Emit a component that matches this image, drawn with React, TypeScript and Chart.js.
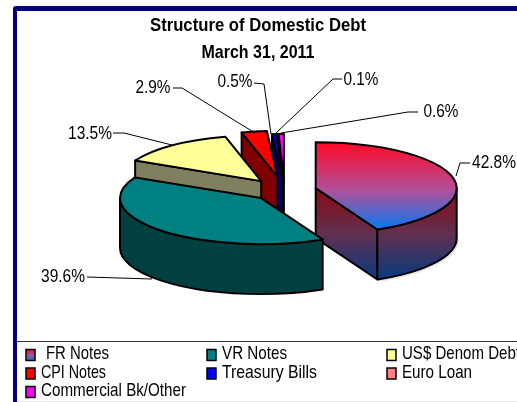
import React, { useEffect, useRef } from "react";
import { Chart, registerables } from "chart.js";

Chart.register(...registerables);

const categories = ["FR Notes", "VR Notes", "US$ Denom Debt", "CPI Notes", "Treasury Bills", "Euro Loan", "Commercial Bk/Other"];
const shares = [42.8, 39.6, 13.5, 2.9, 0.5, 0.1, 0.6];
const titleLines = ["Structure of Domestic Debt", "March 31, 2011"];

const topColors = ["#ff0000", "#008080", "#ffff99", "#ff0000", "#0000ff", "#ff8080", "#ff00ff"];
const sideColors = ["#800000", "#004040", "#808060", "#800000", "#000080", "#804040", "#800080"];
const explode = [32, 33, 37, 42, 32, 32, 32];
const drawOrder = [6, 5, 4, 3, 2, 0, 1];
const SQUASH = 46 / 141;
const DEPTH = 50;
const labelBoxes = [
  { x: 494, y: 163, w: 44, path: [[470, 163], [460, 163], [456, 176]] },
  { x: 63, y: 277, w: 44, path: [[87, 277], [152, 279]] },
  { x: 90, y: 134, w: 44, path: [[113, 133], [124, 133], [172, 145]] },
  { x: 153, y: 88, w: 35, path: [[173, 88], [182, 88], [255, 133]] },
  { x: 235, y: 82, w: 35, path: [[254, 83], [264, 84], [271, 134]] },
  { x: 361, y: 80, w: 35, path: [[342, 79], [333, 79], [276, 133]] },
  { x: 441, y: 112, w: 35, path: [[418, 112], [408, 112], [281, 133]] },
];
const legendSpots = [[26, 354.5], [207, 354.5], [387, 354.5], [26, 373], [207, 373], [387, 373], [26, 391.5]];
const legendWidths = [63, 65, 118, 65, 95, 70, 145];

function text(ctx: CanvasRenderingContext2D, s: string, x: number, y: number, font: string, w: number, align: "left" | "center" = "left") {
  ctx.save();
  ctx.font = font;
  ctx.fillStyle = "#000";
  ctx.textBaseline = "middle";
  ctx.textAlign = "left";
  const k = w / ctx.measureText(s).width;
  ctx.translate(align === "center" ? x - w / 2 : x, y);
  ctx.scale(k, 1);
  ctx.fillText(s, 0, 0);
  ctx.restore();
}

const pie3d = {
  id: "pie3d",
  beforeDatasetDraw(chart: any) {
    const ctx: CanvasRenderingContext2D = chart.ctx;
    const arcs = chart.getDatasetMeta(0).data;
    const frTop = ctx.createLinearGradient(0, 143, 0, 229);
    frTop.addColorStop(0, "#ff0a28");
    frTop.addColorStop(0.55, "#b0509a");
    frTop.addColorStop(1, "#0a78f0");
    const frSide = ctx.createLinearGradient(0, 190, 0, 279);
    frSide.addColorStop(0, "#8a0c18");
    frSide.addColorStop(0.5, "#603050");
    frSide.addColorStop(1, "#083a80");
    ctx.save();
    ctx.lineWidth = 2;
    ctx.strokeStyle = "#000";
    ctx.lineJoin = "round";
    for (const i of drawOrder) {
      const a = arcs[i];
      const mid = (a.startAngle + a.endAngle) / 2;
      const r = a.outerRadius;
      const cx = a.x + Math.cos(mid) * explode[i];
      const cy = a.y + Math.sin(mid) * explode[i] * SQUASH;
      const b = r * SQUASH;
      const side = i === 0 ? frSide : sideColors[i];
      const faces: number[] = [];
      if (Math.cos(a.startAngle) < -1e-6) faces.push(a.startAngle);
      if (Math.cos(a.endAngle) > 1e-6) faces.push(a.endAngle);
      for (const t of faces) {
        ctx.beginPath();
        ctx.moveTo(cx, cy);
        ctx.lineTo(cx + Math.cos(t) * r, cy + Math.sin(t) * b);
        ctx.lineTo(cx + Math.cos(t) * r, cy + Math.sin(t) * b + DEPTH);
        ctx.lineTo(cx, cy + DEPTH);
        ctx.closePath();
        ctx.fillStyle = side;
        ctx.fill();
        ctx.stroke();
      }
      const from = Math.max(a.startAngle, 0);
      const to = Math.min(a.endAngle, Math.PI);
      if (to > from) {
        if (i === 0) {
          ctx.save();
          ctx.beginPath();
          ctx.ellipse(cx + 1.5, cy + DEPTH + 1.5, r, b, 0, from, to);
          ctx.strokeStyle = "#e4e4e4";
          ctx.lineWidth = 1.5;
          ctx.stroke();
          ctx.restore();
        }
        ctx.beginPath();
        ctx.ellipse(cx, cy, r, b, 0, from, to);
        ctx.ellipse(cx, cy + DEPTH, r, b, 0, to, from, true);
        ctx.closePath();
        ctx.fillStyle = side;
        ctx.fill();
        ctx.stroke();
      }
      ctx.beginPath();
      ctx.moveTo(cx, cy);
      ctx.ellipse(cx, cy, r, b, 0, a.startAngle, a.endAngle);
      ctx.closePath();
      ctx.fillStyle = i === 0 ? frTop : topColors[i];
      ctx.fill();
      ctx.stroke();
    }
    ctx.restore();
    return false;
  },
  afterDraw(chart: any) {
    const ctx: CanvasRenderingContext2D = chart.ctx;
    const W = chart.width;
    const H = chart.height;
    ctx.save();
    // frame
    ctx.fillStyle = "#000080";
    ctx.beginPath();
    ctx.moveTo(13, H);
    ctx.lineTo(13, 9);
    ctx.quadraticCurveTo(13, 6, 16, 6);
    ctx.lineTo(W, 6);
    ctx.lineTo(W, 11);
    ctx.lineTo(17, 11);
    ctx.lineTo(17, H);
    ctx.closePath();
    ctx.fill();
    ctx.fillStyle = "#333";
    ctx.fillRect(17, 341, W - 17, 1);
    ctx.fillStyle = "#e8e8e8";
    ctx.fillRect(17, 401, W - 17, 1);

    // title
    const titleFont = "bold 19px 'Liberation Sans'";
    text(ctx, titleLines[0], 258, 26, titleFont, 216, "center");
    text(ctx, titleLines[1], 258, 53, titleFont, 113, "center");

    // leader lines and value labels
    ctx.strokeStyle = "#000";
    ctx.lineWidth = 1;
    labelBoxes.forEach((l, i) => {
      ctx.beginPath();
      l.path.forEach((p, k) => (k ? ctx.lineTo(p[0], p[1]) : ctx.moveTo(p[0], p[1])));
      ctx.stroke();
      text(ctx, shares[i].toFixed(1) + "%", l.x, l.y, "19px 'Liberation Sans'", l.w, "center");
    });

    // legend
    const frLegend = ctx.createLinearGradient(0, 349, 0, 361);
    frLegend.addColorStop(0, "#ff0a28");
    frLegend.addColorStop(0.5, "#a0509a");
    frLegend.addColorStop(1, "#0a78f0");
    categories.forEach((name, i) => {
      const [x, y] = legendSpots[i];
      ctx.fillStyle = i === 0 ? frLegend : topColors[i];
      ctx.fillRect(x, y - 5, 9, 11);
      ctx.lineWidth = 1.5;
      ctx.strokeRect(x, y - 5, 9, 11);
      text(ctx, name, i === 0 ? x + 20 : x + 15, y - 0.5, "19px 'Liberation Sans'", legendWidths[i]);
    });
    ctx.restore();
  },
};

export default function App() {
  const ref = useRef<HTMLCanvasElement>(null);
  useEffect(() => {
    const chart = new Chart(ref.current!, {
      type: "pie",
      data: {
        labels: categories,
        datasets: [{ data: shares, backgroundColor: topColors, borderWidth: 0 }],
      },
      options: {
        responsive: false,
        animation: false,
        radius: 141,
        layout: { padding: { left: 52, right: 0, top: 0, bottom: 21 } },
        plugins: { legend: { display: false }, title: { display: false }, tooltip: { enabled: false } },
      },
      plugins: [pie3d],
    } as any);
    return () => chart.destroy();
  }, []);
  return (
    <div style={{ position: "absolute", left: 0, top: 0, width: 517, height: 402, background: "#fff", overflow: "hidden" }}>
      <canvas ref={ref} width={517} height={402} style={{ display: "block" }} />
    </div>
  );
}
